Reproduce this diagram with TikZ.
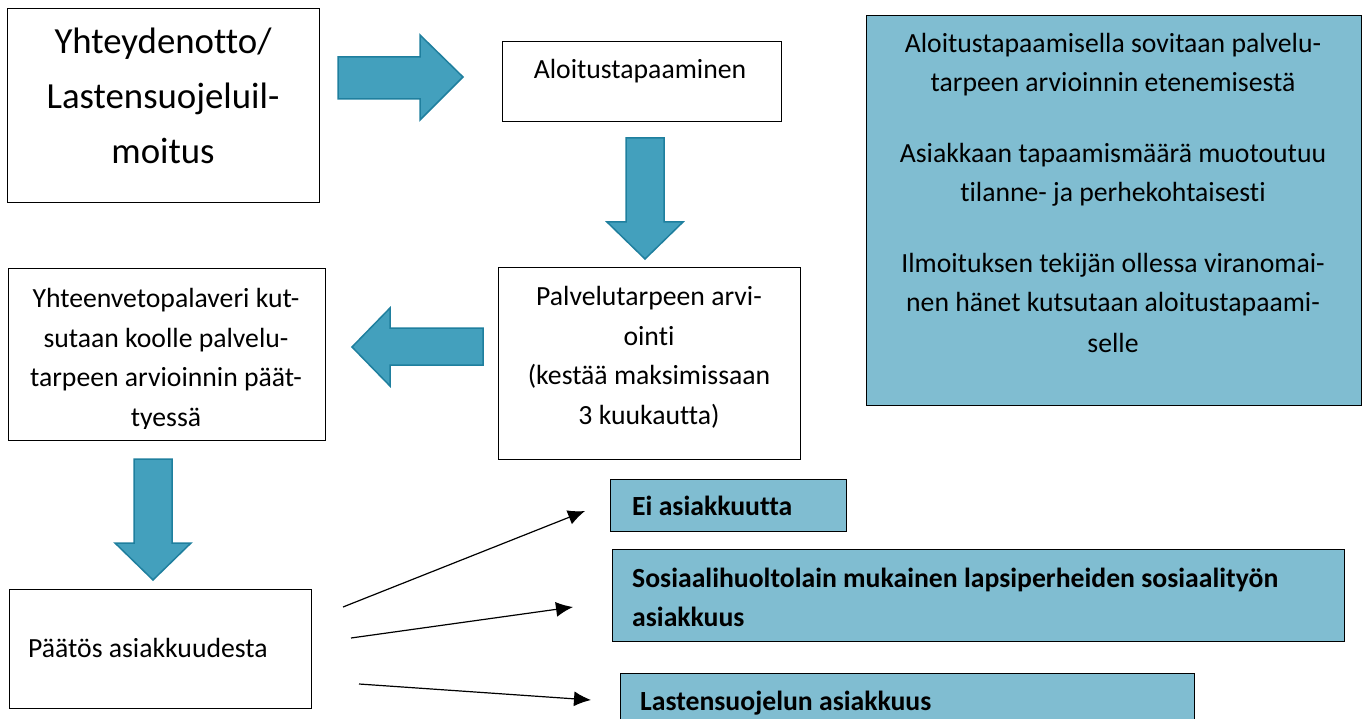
\documentclass[tikz,border=0pt]{standalone}
\usepackage{fontspec}
\setmainfont{Carlito}[Ligatures=CommonOff]
\usetikzlibrary{arrows.meta}
\definecolor{sinitumma}{HTML}{43A0BD}
\definecolor{sinireuna}{HTML}{1F7F9E}
\definecolor{sinivaalea}{HTML}{80BDD1}

\begin{document}
\begin{tikzpicture}[x=1pt,y=-1pt]
 \tikzstyle{laatikko}=[rectangle,draw,line width=1.3pt,inner sep=0pt,anchor=north west]
 \tikzstyle{sininen}=[laatikko,fill=sinivaalea]
 \tikzstyle{teksti}=[inner sep=0pt,align=center,font=\fontsize{27.7pt}{39.5pt}\selectfont]
 \tikzstyle{isoteksti}=[inner sep=0pt,align=center,font=\fontsize{36.8pt}{55pt}\selectfont]
 \tikzstyle{lihava}=[inner sep=0pt,align=left,anchor=base west,font=\fontsize{27.7pt}{38.5pt}\selectfont\bfseries]
 \tikzstyle{nuoli}=[fill=sinitumma,draw=sinireuna,line width=1.5pt,line join=miter]
 \tikzstyle{ohut}=[-{Latex[length=17pt,width=15pt]},line width=1.2pt]
 \useasboundingbox (0,0) rectangle (1365,719);
 %
 \node[laatikko, minimum width=312pt, minimum height=194pt] (B1) at (7,8) {};
 \node[laatikko, minimum width=279pt, minimum height=80pt] (B2) at (502,41) {};
 \node[laatikko, minimum width=302pt, minimum height=192pt] (B3) at (498,267) {};
 \node[laatikko, minimum width=317pt, minimum height=172pt] (B4) at (8,268) {};
 \node[laatikko, minimum width=302pt, minimum height=119pt] (B5) at (9,589) {};
 \node[sininen, minimum width=236pt, minimum height=52pt] (B6) at (610,479) {};
 \node[sininen, minimum width=732pt, minimum height=92pt] (B7) at (612,549) {};
 \node[sininen, minimum width=574pt, minimum height=60pt] (B8) at (620,673) {};
 \node[sininen, minimum width=495pt, minimum height=390pt] (B9) at (866,15) {};
 %
 % multi-line nodes: base = last line
 \node[isoteksti, anchor=base] (T1) at (163,164) {Yhteydenotto/\\Lastensuojeluil-\\moitus};
 \node[teksti, anchor=base] (T2) at (640,79) {Aloitustapaaminen};
 \node[teksti, anchor=base] (T3) at (649,424) {Palvelutarpeen arvi-\\ointi\\(kestää maksimissaan\\3 kuukautta)};
 \begin{scope}
 \clip (8,268) rectangle (325,428);
 \node[teksti, anchor=base] (T4) at (166,426) {Yhteenvetopalaveri kut-\\sutaan koolle palvelu-\\tarpeen arvioinnin päät-\\tyessä};
 \end{scope}
 \node[teksti, anchor=base west] (T5) at (28,657) {Päätös asiakkuudesta};
 \node[lihava] (T6) at (632,515) {Ei asiakkuutta};
 \node[lihava] (T7) at (632,626) {Sosiaalihuoltolain mukainen lapsiperheiden sosiaalityön\\asiakkuus};
 \node[lihava] (T8) at (640,710) {Lastensuojelun asiakkuus};
 \node[teksti, font=\fontsize{27.7pt}{40pt}\selectfont, anchor=base] (T9) at (1113,352) {Aloitustapaamisella sovitaan palvelu-\\tarpeen arvioinnin etenemisestä\\[30pt]
 Asiakkaan tapaamismäärä muotoutuu\\tilanne- ja perhekohtaisesti\\[30pt]
 Ilmoituksen tekijän ollessa viranomai-\\nen hänet kutsutaan aloitustapaami-\\selle};
 %
 \draw[nuoli] (338,57) -- (420,57) -- (420,35) -- (463,77) -- (420,120) -- (420,99) -- (338,99) -- cycle;
 \draw[nuoli] (626,138) -- (664,138) -- (664,222) -- (683,222) -- (645,259) -- (607,222) -- (626,222) -- cycle;
 \draw[nuoli] (483,328) -- (483,365) -- (390,365) -- (390,386) -- (352,347) -- (390,308) -- (390,328) -- cycle;
 \draw[nuoli] (134,459) -- (172,459) -- (172,543) -- (191,543) -- (153,580) -- (115,543) -- (134,543) -- cycle;
 %
 \coordinate (a1) at (343,607);
 \coordinate (a2) at (351,638);
 \coordinate (a3) at (359,684);
 \coordinate (k1) at (585,511);
 \coordinate (k2) at (573,607);
 \coordinate (k3) at (591,700);
 \draw[ohut] (a1)--(k1);
 \draw[ohut] (a2)--(k2);
 \draw[ohut] (a3)--(k3);
\end{tikzpicture}
\end{document}
